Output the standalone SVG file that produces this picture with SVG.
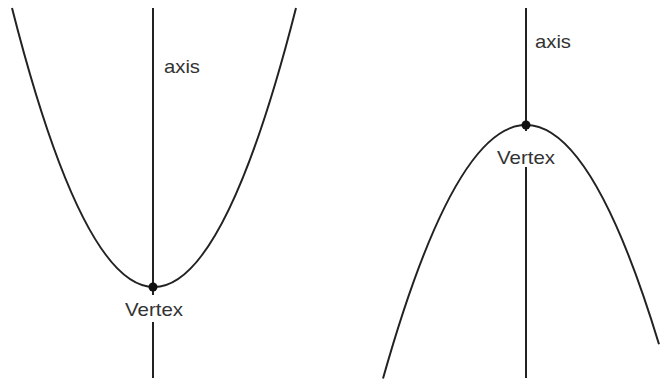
<svg xmlns="http://www.w3.org/2000/svg" width="660" height="380" viewBox="0 0 660 380">
<style>
.curve{fill:none;stroke:#222;stroke-width:2}
.axis{stroke:#222;stroke-width:2}
.dot{fill:#111}
.mask{fill:#fff}
text{font-family:"Liberation Sans","DejaVu Sans",sans-serif;font-size:19px;fill:#333}
</style>
<rect width="660" height="380" fill="#fff"/>
<g id="connectors">
<line id="axis-left" class="axis" x1="153" y1="8" x2="153" y2="378"/>
<line id="axis-right" class="axis" x1="526" y1="8" x2="526" y2="378"/>
<path id="parabola-up" class="curve" d="M12,8 Q154,566 296,8"/>
<path id="parabola-down" class="curve" d="M383,378.6 Q521,-110.8 659,344.3"/>
</g>
<g id="vertex-left">
<rect class="mask" x="147" y="295" width="12" height="27"/>
<circle class="dot" cx="153" cy="287" r="4.5"/>
<text x="154" y="316" text-anchor="middle" textLength="58" lengthAdjust="spacingAndGlyphs">Vertex</text>
</g>
<g id="vertex-right">
<rect class="mask" x="520" y="131" width="12" height="36"/>
<circle class="dot" cx="526" cy="125" r="4.5"/>
<text x="526" y="164" text-anchor="middle" textLength="58" lengthAdjust="spacingAndGlyphs">Vertex</text>
</g>
<g id="label-axis-left">
<text x="164" y="73" textLength="36" lengthAdjust="spacingAndGlyphs">axis</text>
</g>
<g id="label-axis-right">
<text x="535" y="48" textLength="36" lengthAdjust="spacingAndGlyphs">axis</text>
</g>
</svg>
